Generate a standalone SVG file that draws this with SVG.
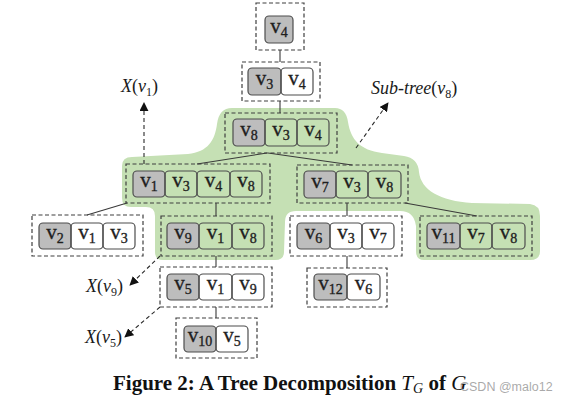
<svg xmlns="http://www.w3.org/2000/svg" width="564" height="405" viewBox="0 0 564 405">
<defs>
<style>
.dash{fill:none;stroke:#3f3f3f;stroke-width:1.2;stroke-dasharray:4 2.5}
.key{fill:#bdbdbd;stroke:#4d4d4d;stroke-width:1.2}
.cell{fill:none;stroke:#4d4d4d;stroke-width:1.2}
.v{font-family:"Liberation Serif",serif;font-size:21px;fill:#1f1f1f;stroke:#1f1f1f;stroke-width:0.35;text-anchor:middle}
.sub{font-size:14px}
.edge{stroke:#3a3a3a;stroke-width:1.1;fill:none}
.darr{stroke:#2a2a2a;stroke-width:1.1;fill:none;stroke-dasharray:4 3}
.lab{font-family:"Liberation Serif",serif;font-size:18px;fill:#1a1a1a}
</style>
<marker id="ah" viewBox="0 0 10 10" refX="9" refY="5" markerWidth="9" markerHeight="9" markerUnits="userSpaceOnUse" orient="auto">
<path d="M0,0 L10,5 L0,10 z" fill="#111"/>
</marker>
</defs>
<rect width="564" height="405" fill="#fff"/>
<path id="subtree" fill="#c5e0b4" d="M232,108 L335,108 Q346,108 348,122 C351,140 360,150 382,153 L404,156 Q418,158 419,172 C421,190 440,201 472,203 L530,204 Q540,205 540,216 L540,251 Q540,260 530,260 L424,260 Q416,260 416,251 L416,226 Q414,211 400,211 L296,211 Q285,211 285,222 L284,252 Q284,260 275,260 L163,260 Q155,260 155,252 L155,216 Q155,207 146,207 L131,207 Q122,207 122,198 L122,166 Q122,157 132,157 L188,154 C208,152 215,140 217,124 Q219,108 232,108 Z"/>
<g id="connectors">
<line class="edge" x1="280" y1="50" x2="280" y2="62"/>
<line class="edge" x1="280" y1="101" x2="280" y2="113"/>
<line class="edge" x1="267" y1="153" x2="197" y2="164"/>
<line class="edge" x1="268" y1="153" x2="352" y2="165"/>
<line class="edge" x1="127" y1="203" x2="87" y2="215"/>
<line class="edge" x1="216" y1="203" x2="216" y2="216"/>
<line class="edge" x1="347" y1="203" x2="347" y2="216"/>
<line class="edge" x1="405" y1="203" x2="477" y2="216"/>
<line class="edge" x1="216" y1="256" x2="216" y2="267"/>
<line class="edge" x1="347" y1="256" x2="347" y2="268"/>
<line class="edge" x1="216" y1="307" x2="216" y2="318"/>
<line class="darr" x1="144" y1="164" x2="144" y2="103" marker-end="url(#ah)"/>
<line class="darr" x1="356" y1="148" x2="388" y2="103" marker-end="url(#ah)"/>
<line class="darr" x1="160" y1="256" x2="130" y2="285" marker-end="url(#ah)"/>
<line class="darr" x1="160" y1="307" x2="125" y2="337" marker-end="url(#ah)"/>
</g>
<g id="labels">
<text class="lab" x="121" y="92"><tspan font-style="italic">X</tspan>(<tspan font-style="italic">v</tspan><tspan font-size="12" dy="4">1</tspan><tspan dy="-4">)</tspan></text>
<text class="lab" x="371" y="94" font-style="italic">Sub-tree<tspan font-style="normal">(</tspan>v<tspan font-size="12" dy="4" font-style="normal">8</tspan><tspan dy="-4" font-style="normal">)</tspan></text>
<text class="lab" x="86" y="292"><tspan font-style="italic">X</tspan>(<tspan font-style="italic">v</tspan><tspan font-size="12" dy="4">9</tspan><tspan dy="-4">)</tspan></text>
<text class="lab" x="85" y="343"><tspan font-style="italic">X</tspan>(<tspan font-style="italic">v</tspan><tspan font-size="12" dy="4">5</tspan><tspan dy="-4">)</tspan></text>
</g>
<g id="n_v4">
<rect class="dash" x="256" y="3" width="48" height="47"/>
<rect class="key" x="265" y="16" width="28" height="27" rx="4"/>
<text class="v" x="279" y="33">v<tspan class="sub" dy="4">4</tspan></text>
</g>
<g id="n_v3v4">
<rect class="dash" x="242" y="62" width="78" height="39"/>
<rect class="key" x="248" y="68" width="33" height="27" rx="4"/>
<rect class="cell" x="281" y="68" width="32" height="27" rx="4" fill="#fff"/>
<text class="v" x="264.5" y="85">v<tspan class="sub" dy="4">3</tspan></text>
<text class="v" x="297" y="85">v<tspan class="sub" dy="4">4</tspan></text>
</g>
<g id="n_v8v3v4">
<rect class="dash" x="225" y="113" width="112" height="40"/>
<rect class="key" x="233" y="119" width="32" height="27" rx="4"/>
<rect class="cell" x="265" y="119" width="32" height="27" rx="4"/>
<rect class="cell" x="297" y="119" width="32" height="27" rx="4"/>
<text class="v" x="249" y="136">v<tspan class="sub" dy="4">8</tspan></text>
<text class="v" x="281" y="136">v<tspan class="sub" dy="4">3</tspan></text>
<text class="v" x="313" y="136">v<tspan class="sub" dy="4">4</tspan></text>
</g>
<g id="n_v1v3v4v8">
<rect class="dash" x="126" y="164" width="144" height="39"/>
<rect class="key" x="133" y="171" width="32" height="26" rx="4"/>
<rect class="cell" x="165" y="171" width="32" height="26" rx="4"/>
<rect class="cell" x="197" y="171" width="33" height="26" rx="4"/>
<rect class="cell" x="230" y="171" width="32" height="26" rx="4"/>
<text class="v" x="149" y="187">v<tspan class="sub" dy="4">1</tspan></text>
<text class="v" x="181" y="187">v<tspan class="sub" dy="4">3</tspan></text>
<text class="v" x="213.5" y="187">v<tspan class="sub" dy="4">4</tspan></text>
<text class="v" x="246" y="187">v<tspan class="sub" dy="4">8</tspan></text>
</g>
<g id="n_v7v3v8">
<rect class="dash" x="297" y="165" width="111" height="38"/>
<rect class="key" x="304" y="171" width="32" height="27" rx="4"/>
<rect class="cell" x="336" y="171" width="32" height="27" rx="4"/>
<rect class="cell" x="368" y="171" width="33" height="27" rx="4"/>
<text class="v" x="320" y="188">v<tspan class="sub" dy="4">7</tspan></text>
<text class="v" x="352" y="188">v<tspan class="sub" dy="4">3</tspan></text>
<text class="v" x="384.5" y="188">v<tspan class="sub" dy="4">8</tspan></text>
</g>
<g id="n_v2v1v3">
<rect class="dash" x="32" y="215" width="111" height="41"/>
<rect class="key" x="39" y="223" width="32" height="26" rx="4"/>
<rect class="cell" x="71" y="223" width="32" height="26" rx="4"/>
<rect class="cell" x="103" y="223" width="32" height="26" rx="4"/>
<text class="v" x="55" y="239">v<tspan class="sub" dy="4">2</tspan></text>
<text class="v" x="87" y="239">v<tspan class="sub" dy="4">1</tspan></text>
<text class="v" x="119" y="239">v<tspan class="sub" dy="4">3</tspan></text>
</g>
<g id="n_v9v1v8">
<rect class="dash" x="161" y="216" width="111" height="40"/>
<rect class="key" x="167" y="223" width="32" height="26" rx="4"/>
<rect class="cell" x="199" y="223" width="33" height="26" rx="4"/>
<rect class="cell" x="232" y="223" width="32" height="26" rx="4"/>
<text class="v" x="183" y="239">v<tspan class="sub" dy="4">9</tspan></text>
<text class="v" x="215.5" y="239">v<tspan class="sub" dy="4">1</tspan></text>
<text class="v" x="248" y="239">v<tspan class="sub" dy="4">8</tspan></text>
</g>
<g id="n_v6v3v7">
<rect class="dash" x="290" y="216" width="112" height="40"/>
<rect class="key" x="297" y="223" width="33" height="26" rx="4"/>
<rect class="cell" x="330" y="223" width="32" height="26" rx="4"/>
<rect class="cell" x="362" y="223" width="32" height="26" rx="4"/>
<text class="v" x="313.5" y="239">v<tspan class="sub" dy="4">6</tspan></text>
<text class="v" x="346" y="239">v<tspan class="sub" dy="4">3</tspan></text>
<text class="v" x="378" y="239">v<tspan class="sub" dy="4">7</tspan></text>
</g>
<g id="n_v11v7v8">
<rect class="dash" x="420" y="216" width="112" height="40"/>
<rect class="key" x="427" y="223" width="33" height="26" rx="4"/>
<rect class="cell" x="460" y="223" width="32" height="26" rx="4"/>
<rect class="cell" x="492" y="223" width="33" height="26" rx="4"/>
<text class="v" x="443.5" y="239">v<tspan class="sub" dy="4">11</tspan></text>
<text class="v" x="476" y="239">v<tspan class="sub" dy="4">7</tspan></text>
<text class="v" x="508.5" y="239">v<tspan class="sub" dy="4">8</tspan></text>
</g>
<g id="n_v5v1v9">
<rect class="dash" x="160" y="267" width="112" height="40"/>
<rect class="key" x="167" y="274" width="32" height="26" rx="4"/>
<rect class="cell" x="199" y="274" width="33" height="26" rx="4"/>
<rect class="cell" x="232" y="274" width="32" height="26" rx="4"/>
<text class="v" x="183" y="290">v<tspan class="sub" dy="4">5</tspan></text>
<text class="v" x="215.5" y="290">v<tspan class="sub" dy="4">1</tspan></text>
<text class="v" x="248" y="290">v<tspan class="sub" dy="4">9</tspan></text>
</g>
<g id="n_v12v6">
<rect class="dash" x="307" y="268" width="80" height="39"/>
<rect class="key" x="314" y="274" width="33" height="26" rx="4"/>
<rect class="cell" x="347" y="274" width="33" height="26" rx="4"/>
<text class="v" x="330.5" y="290">v<tspan class="sub" dy="4">12</tspan></text>
<text class="v" x="363.5" y="290">v<tspan class="sub" dy="4">6</tspan></text>
</g>
<g id="n_v10v5">
<rect class="dash" x="176" y="318" width="81" height="40"/>
<rect class="key" x="184" y="326" width="32" height="26" rx="4"/>
<rect class="cell" x="216" y="326" width="32" height="26" rx="4"/>
<text class="v" x="200" y="342">v<tspan class="sub" dy="4">10</tspan></text>
<text class="v" x="232" y="342">v<tspan class="sub" dy="4">5</tspan></text>
</g>
<text x="113" y="390" font-family="Liberation Serif, serif" font-size="21" font-weight="bold" fill="#111">Figure 2: A Tree Decomposition <tspan font-style="italic" font-weight="normal">T</tspan><tspan font-style="italic" font-weight="normal" font-size="14" dy="3">G</tspan><tspan dy="-3"> of </tspan><tspan font-style="italic" font-weight="normal">G</tspan></text>
<text x="460" y="391" font-family="Liberation Sans, sans-serif" font-size="12.5" fill="#9a9a9a" fill-opacity="0.85">CSDN @malo12</text>
</svg>
